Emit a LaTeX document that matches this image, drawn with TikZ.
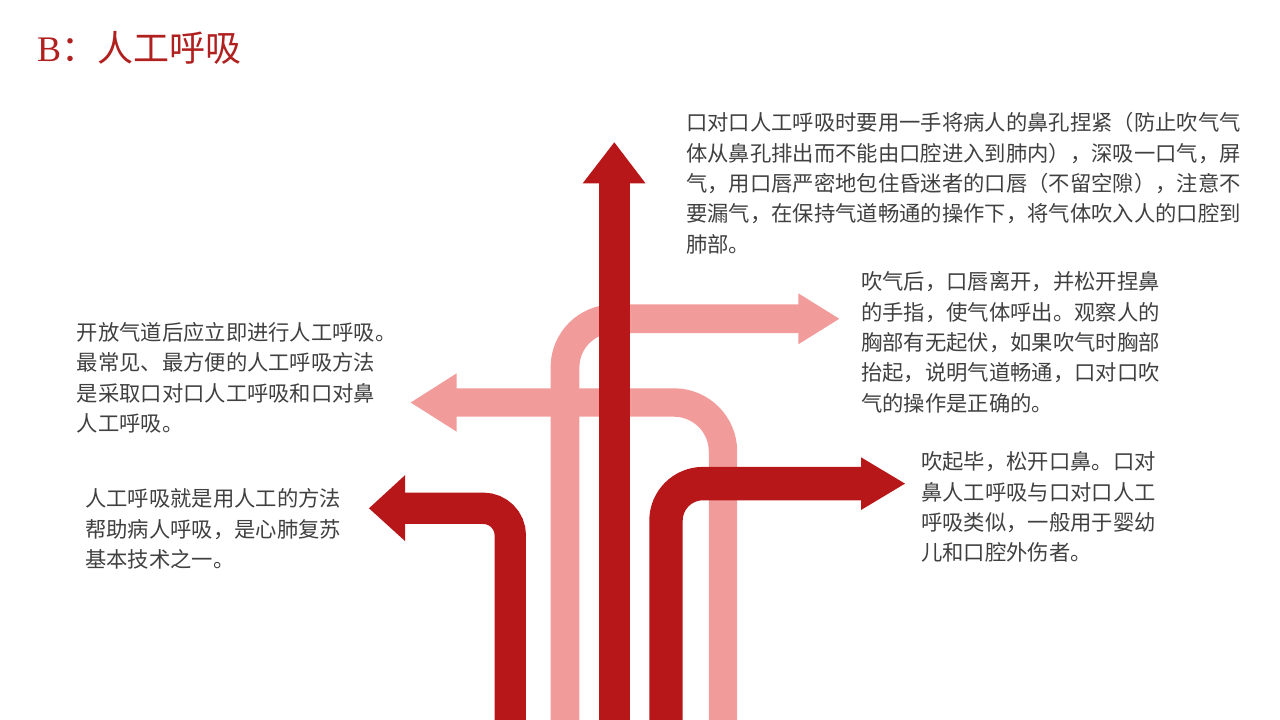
\documentclass[tikz,border=0pt]{standalone}
\usepackage{fontspec}
\setmainfont{Liberation Serif}
\newfontfamily\cjk{Noto Sans CJK SC}
\definecolor{darkred}{HTML}{B71719}
\definecolor{pinkred}{HTML}{F19C9B}
\definecolor{titlered}{HTML}{B0201F}
\definecolor{bodygray}{HTML}{404040}
\tikzset{
  pinkband/.style={draw=pinkred, line cap=butt},
  darkband/.style={draw=darkred, line cap=butt},
  pinkhead/.style={fill=pinkred},
  darkhead/.style={fill=darkred},
  bodytext/.style={anchor=north west, inner sep=0pt, align=left, text=bodygray,
    font=\cjk\fontsize{21.33pt}{30.4pt}\selectfont},
  titletext/.style={anchor=base west, inner sep=0pt, text=titlered,
    font=\fontsize{36pt}{40pt}\selectfont}
}
\newcommand{\firstline}{\rule{0pt}{22pt}}
\begin{document}
\begin{tikzpicture}[x=1pt,y=-1pt]
\useasboundingbox (0,0) rectangle (1280,720);
\clip (0,0) rectangle (1280,720);

% ---- pink arrow to the right (upper)
\draw[pinkband, line width=28.8pt, rounded corners=48.5pt]
  (565,740) -- (565,318.8) -- (799,318.8);
\fill[pinkhead] (798.3,293.3) -- (839.3,318.8) -- (798.3,344.3) -- cycle;

% ---- pink arrow to the left
\draw[pinkband, line width=28.4pt, rounded corners=49pt]
  (723,740) -- (723,402.5) -- (456,402.5);
\fill[pinkhead] (456.7,373.3) -- (410.7,402.5) -- (456.7,431.7) -- cycle;

% ---- central dark arrow upwards
\draw[darkband, line width=31pt] (614.3,740) -- (614.3,182.5);
\fill[darkhead] (582.7,183.3) -- (614.3,142.3) -- (645.5,183.3) -- cycle;

% ---- dark arrow lower left
\draw[darkband, line width=31.3pt, rounded corners=27pt]
  (510.3,740) -- (510.3,508.3) -- (404.5,508.3);
\fill[darkhead] (405,475.2) -- (369,508.3) -- (405,541) -- cycle;

% ---- dark arrow lower right
\draw[darkband, line width=33.4pt, rounded corners=37pt]
  (666,740) -- (666,483.6) -- (861.5,483.6);
\fill[darkhead] (861,457.3) -- (905,483.6) -- (861,510) -- cycle;

% ---- title
\node[titletext] (title) at (37,61) {B{\cjk ：人工呼吸}};

% ---- texts
\node[bodytext] (t1) at (686,108.5) {\firstline 口对口人工呼吸时要用一手将病人的鼻孔捏紧（防止吹气气\\
体从鼻孔排出而不能由口腔进入到肺内），深吸一口气，屏\\
气，用口唇严密地包住昏迷者的口唇（不留空隙），注意不\\
要漏气，在保持气道畅通的操作下，将气体吹入人的口腔到\\
肺部。};

\node[bodytext] (t2) at (861,267.5) {\firstline 吹气后，口唇离开，并松开捏鼻\\
的手指，使气体呼出。观察人的\\
胸部有无起伏，如果吹气时胸部\\
抬起，说明气道畅通，口对口吹\\
气的操作是正确的。};

\node[bodytext] (t3) at (921,447.5) {\firstline 吹起毕，松开口鼻。口对\\
鼻人工呼吸与口对口人工\\
呼吸类似，一般用于婴幼\\
儿和口腔外伤者。};

\node[bodytext] (t4) at (76.5,318) {\firstline 开放气道后应立即进行人工呼吸。\\
最常见、最方便的人工呼吸方法\\
是采取口对口人工呼吸和口对鼻\\
人工呼吸。};

\node[bodytext] (t5) at (85,484.5) {\firstline 人工呼吸就是用人工的方法\\
帮助病人呼吸，是心肺复苏\\
基本技术之一。};
\end{tikzpicture}
\end{document}
